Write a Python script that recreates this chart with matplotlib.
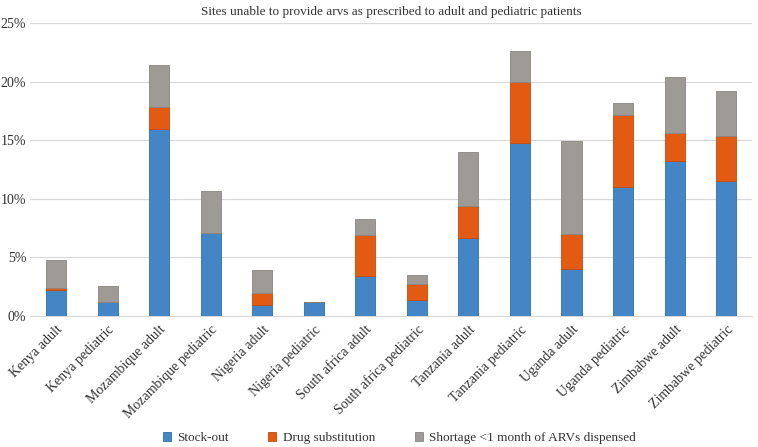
import numpy as np
import matplotlib
matplotlib.use("Agg")
import matplotlib.pyplot as plt
from matplotlib.ticker import FuncFormatter

plt.rcParams["font.family"] = ["Liberation Serif", "DejaVu Serif"]

sites = ["Kenya adult", "Kenya pediatric", "Mozambique adult", "Mozambique pediatric",
         "Nigeria adult", "Nigeria pediatric", "South africa adult", "South africa pediatric",
         "Tanzania adult", "Tanzania pediatric", "Uganda adult", "Uganda pediatric",
         "Zimbabwe adult", "Zimbabwe pediatric"]

# percent of sites
stock_out = [2.2, 1.2, 16.0, 7.1, 0.95, 1.2, 3.4, 1.4, 6.7, 14.75, 4.0, 11.0, 13.2, 11.5]
drug_subst = [0.2, 0.0, 1.8, 0.0, 1.05, 0.0, 3.5, 1.3, 2.7, 5.25, 3.0, 6.15, 2.4, 3.9]
shortage = [2.4, 1.4, 3.6, 3.6, 1.9, 0.0, 1.4, 0.8, 4.6, 2.6, 7.9, 1.05, 4.8, 3.8]

series = [
    ("Stock-out", stock_out, "#4485c5", "#2f6fb0"),
    ("Drug substitution", drug_subst, "#e35a12", "#c94a0a"),
    ("Shortage <1 month of ARVs dispensed", shortage, "#9e9a95", "#8a8682"),
]

fig = plt.figure(figsize=(7.58, 4.47), dpi=100)
ax = fig.add_axes([0.04, 0.293, 0.952, 0.6555])

x = np.arange(len(sites))
bottom = np.zeros(len(sites))
for name, vals, col, edge in series:
    vals = np.array(vals)
    ax.bar(x, vals, 0.39, bottom=bottom, color=col, edgecolor=edge, linewidth=0.6,
           label=name, zorder=3)
    bottom += vals

ax.set_xlim(-0.5, len(sites) - 0.5)
ax.set_ylim(0, 25)
ax.set_yticks(range(0, 26, 5))
ax.yaxis.set_major_formatter(FuncFormatter(lambda v, p: f"{v:.0f}%"))
ax.grid(axis="y", color="#d9d9d9", linewidth=0.9, zorder=0)
for s in ["top", "right", "left"]:
    ax.spines[s].set_visible(False)
ax.spines["bottom"].set_color("#d9d9d9")
ax.tick_params(axis="both", length=0, labelsize=10, colors="#333333")
ax.tick_params(axis="y", pad=3)
ax.set_xticks(x)
ax.set_xticklabels(sites, rotation=45, ha="right", rotation_mode="anchor")
ax.tick_params(axis="x", pad=5)

ax.set_title("Sites unable to provide arvs as prescribed to adult and pediatric patients",
             fontsize=9.5, color="#333333", pad=6)

fig.legend(loc="lower center", bbox_to_anchor=(0.527, -0.02), ncol=3, frameon=False,
           fontsize=9.5, handlelength=0.6, handleheight=0.6, columnspacing=3.0,
           handletextpad=0.5, labelcolor="#333333")

fig.savefig("out.png", dpi=100)
